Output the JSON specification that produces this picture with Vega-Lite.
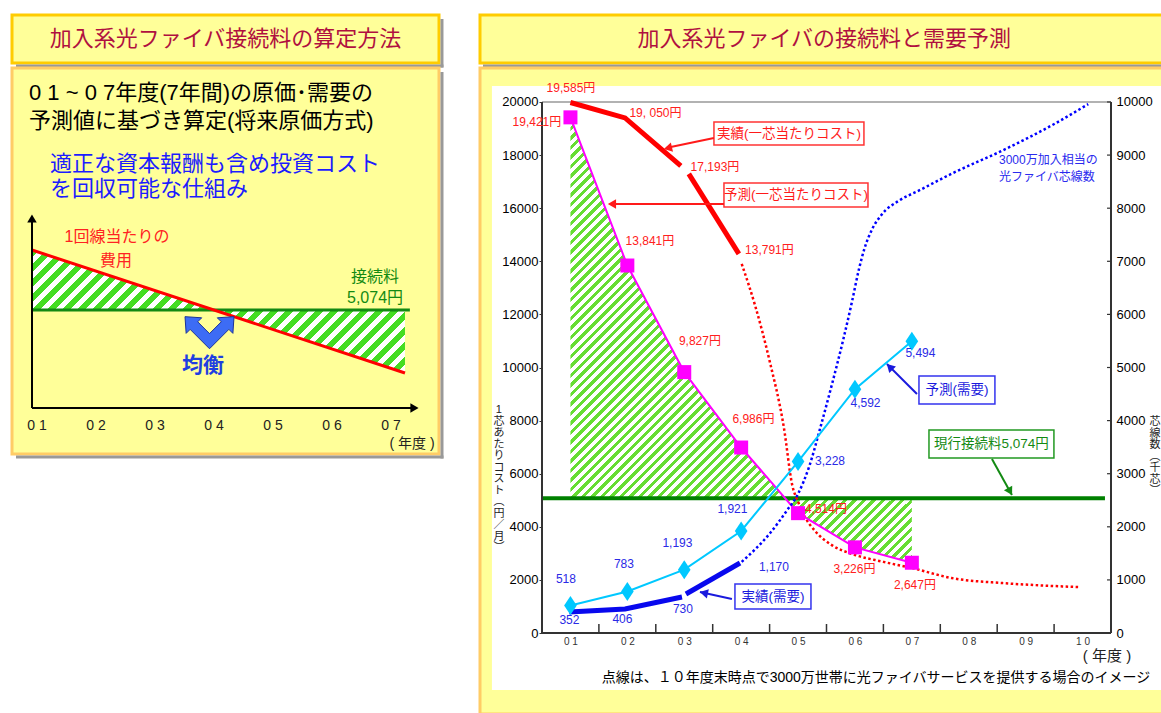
{
"$schema": "https://vega.github.io/schema/vega-lite/v6.json",
"background": "white",
"padding": {"left": 10, "top": 13, "right": 0, "bottom": 0},
"bounds": "flush",
"columns": 2,
"spacing": {"row": 5, "column": 41},
"config": {
  "view": {"stroke": null},
  "font": "Liberation Sans, Noto Sans CJK JP",
  "text": {"font": "Liberation Sans, Noto Sans CJK JP"},
  "axis": {"labelFont": "Liberation Sans", "zindex": 1}
},
"datasets": {
  "hdrL": [{"x": 0.5, "y": 0.5, "t": "加入系光ファイバ接続料の算定方法"}],
  "hdrR": [{"x": 0.504, "y": 0.5, "t": "加入系光ファイバの接続料と需要予測"}],
  "shL": [{"x": 1.0035, "x2": 1.0105, "y": 0.917, "y2": -0.094}, {"x": 0.0094, "x2": 1.0105, "y": -0.031, "y2": -0.094}],
  "shR": [{"x": 0.0044, "x2": 1.0, "y": -0.031, "y2": -0.094}],
  "shB": [{"x": 7.839, "x2": 7.89, "y": 336, "y2": -50.5}, {"x": 0.644, "x2": 7.89, "y": -47.5, "y2": -50.5}],
  "introBlack": [{"x": 0.8644, "y": 315, "t": "0 1 ~ 0 7年度(7年間)の原価･需要の"}, {"x": 0.8644, "y": 287, "t": "予測値に基づき算定(将来原価方式)"}],
  "introBlue": [{"x": 1.2203, "y": 244, "t": "適正な資本報酬も含め投資コスト"}, {"x": 1.2203, "y": 219, "t": "を回収可能な仕組み"}],
  "schHatch": [{"x": 0.915, "y": 158}, {"x": 4.0, "y": 98}, {"x": 7.237, "y": 35}],
  "schRed": [{"x": 0.915, "y": 158}, {"x": 7.237, "y": 35}],
  "schGreen": [{"x": 0.915, "x2": 7.32, "y": 98}],
  "schAxes": [{"x": 0.915, "y": 0, "x2": 0.915, "y2": 190}, {"x": 0.915, "y": 0, "x2": 7.41, "y2": 0}],
  "schHeads": [{"x": 0.915, "y": 189.5, "a": 0}, {"x": 7.398, "y": 0, "a": 90}],
  "schRedTxt": [{"x": 2.356, "y": 171, "t": "1回線当たりの"}, {"x": 2.339, "y": 147, "t": "費用"}],
  "schGreenTxt": [{"x": 6.729, "y": 131, "t": "接続料"}, {"x": 6.729, "y": 110, "t": "5,074円"}],
  "schBal": [{"x": 3.814, "y": 42, "t": "均衡"}],
  "schChev": [{"x": 3.924, "y": 81}],
  "schTicks": [{"x": 1, "y": -18, "t": "0 1"}, {"x": 2, "y": -18, "t": "0 2"}, {"x": 3, "y": -18, "t": "0 3"}, {"x": 4, "y": -18, "t": "0 4"}, {"x": 5, "y": -18, "t": "0 5"}, {"x": 6, "y": -18, "t": "0 6"}, {"x": 7, "y": -18, "t": "0 7"}, {"x": 7.356, "y": -36, "t": "( 年度 )"}],
  "white": [{"x": -0.38, "x2": 11.4139, "y": 20600, "y2": -2147}],
  "frameTop": [{"x": 0.5, "x2": 10.5, "y": 20000, "y2": 20000}],
  "frameAxes": [{"x": 0.5, "y": 0, "x2": 0.5, "y2": 20000}, {"x": 10.5, "y": 0, "x2": 10.5, "y2": 20000}, {"x": 0.5, "y": 0, "x2": 10.5, "y2": 0}],
  "xTicks": [{"x": 1.5, "y": 0, "y2": 340}, {"x": 2.5, "y": 0, "y2": 340}, {"x": 3.5, "y": 0, "y2": 340}, {"x": 4.5, "y": 0, "y2": 340}, {"x": 5.5, "y": 0, "y2": 340}, {"x": 6.5, "y": 0, "y2": 340}, {"x": 7.5, "y": 0, "y2": 340}, {"x": 8.5, "y": 0, "y2": 340}, {"x": 9.5, "y": 0, "y2": 340}],
  "rTicks": [{"x": 10.43, "x2": 10.5, "y": 2000}, {"x": 10.43, "x2": 10.5, "y": 4000}, {"x": 10.43, "x2": 10.5, "y": 6000}, {"x": 10.43, "x2": 10.5, "y": 8000}, {"x": 10.43, "x2": 10.5, "y": 10000}, {"x": 10.43, "x2": 10.5, "y": 12000}, {"x": 10.43, "x2": 10.5, "y": 14000}, {"x": 10.43, "x2": 10.5, "y": 16000}, {"x": 10.43, "x2": 10.5, "y": 18000}, {"x": 10.43, "x2": 10.5, "y": 20000}],
  "hatch": [{"x": 1, "y": 19421}, {"x": 2, "y": 13841}, {"x": 3, "y": 9827}, {"x": 4, "y": 6986}, {"x": 4.77, "y": 5074}, {"x": 5, "y": 4514}, {"x": 6, "y": 3226}, {"x": 7, "y": 2647}],
  "fee": [{"x": 0.5, "x2": 10.394, "y": 5074}],
  "costDot": [{"x": 4.01, "y": 13900}, {"x": 4.25, "y": 12300}, {"x": 4.5, "y": 10250}, {"x": 4.75, "y": 7750}, {"x": 4.9, "y": 5550}, {"x": 5.0, "y": 4950}, {"x": 5.1, "y": 4450}, {"x": 5.3, "y": 3840}, {"x": 5.6, "y": 3300}, {"x": 5.95, "y": 2975}, {"x": 6.5, "y": 2680}, {"x": 7.0, "y": 2450}, {"x": 7.7, "y": 2070}, {"x": 8.6, "y": 1880}, {"x": 9.3, "y": 1790}, {"x": 9.95, "y": 1730}],
  "costAct": [{"x": 1, "y": 19980, "s": 1}, {"x": 1.96, "y": 19400, "s": 1}, {"x": 2.94, "y": 17590, "s": 1}, {"x": 3.08, "y": 17290, "s": 2}, {"x": 3.96, "y": 14280, "s": 2}],
  "costFc": [{"x": 1, "y": 19421}, {"x": 2, "y": 13841}, {"x": 3, "y": 9827}, {"x": 4, "y": 6986}, {"x": 5, "y": 4514}, {"x": 6, "y": 3226}, {"x": 7, "y": 2647}],
  "redLbl": [{"x": 1.009, "y": 20525, "t": "19,585円"}, {"x": 0.411, "y": 19244, "t": "19,421円"}, {"x": 2.494, "y": 19583, "t": "19, 050円"}, {"x": 3.54, "y": 17550, "t": "17,193円"}, {"x": 4.497, "y": 14424, "t": "13,791円"}, {"x": 2.397, "y": 14763, "t": "13,841円"}, {"x": 3.276, "y": 10997, "t": "9,827円"}, {"x": 4.216, "y": 8059, "t": "6,986円"}, {"x": 5.49, "y": 4670, "t": "4,514円"}, {"x": 5.991, "y": 2410, "t": "3,226円"}, {"x": 7.054, "y": 1808, "t": "2,647円"}],
  "boxes": [{"x": 3.522, "x2": 6.158, "y": 19244, "y2": 18378, "kind": "cost"}, {"x": 3.698, "x2": 6.229, "y": 16947, "y2": 16043, "kind": "cost"}, {"x": 7.125, "x2": 8.46, "y": 9679, "y2": 8624, "kind": "demand"}, {"x": 7.301, "x2": 9.497, "y": 7645, "y2": 6591, "kind": "fee"}, {"x": 3.891, "x2": 5.227, "y": 1845, "y2": 904, "kind": "demand"}],
  "boxTxt": [{"x": 4.84, "y": 18811, "t": "実績(一芯当たりコスト)", "kind": "cost"}, {"x": 4.963, "y": 16495, "t": "予測(一芯当たりコスト)", "kind": "cost"}, {"x": 7.793, "y": 9151, "t": "予測(需要)", "kind": "demand"}, {"x": 8.399, "y": 7118, "t": "現行接続料5,074円", "kind": "fee"}, {"x": 4.559, "y": 1375, "t": "実績(需要)", "kind": "demand"}],
  "arrows": [{"x": 3.522, "y": 18642, "x2": 2.678, "y2": 18265, "kind": "cost"}, {"x": 3.698, "y": 16156, "x2": 1.71, "y2": 16156, "kind": "cost"}, {"x": 7.09, "y": 9001, "x2": 6.562, "y2": 10131, "kind": "demand"}, {"x": 8.408, "y": 6553, "x2": 8.759, "y2": 5197, "kind": "fee"}, {"x": 3.838, "y": 1280, "x2": 3.276, "y2": 1544, "kind": "demand"}],
  "heads": [{"x": 2.713, "y": 18262, "a": -103, "kind": "cost"}, {"x": 1.729, "y": 16156, "a": -90, "kind": "cost"}, {"x": 6.611, "y": 10025, "a": -45, "kind": "demand"}, {"x": 8.726, "y": 5329, "a": 151, "kind": "fee"}, {"x": 3.344, "y": 1510, "a": -78, "kind": "demand"}],
  "vTitles": [{"x": -0.257, "y": 8399, "t": "1\n芯\nあ\nた\nり\nコ\nス\nト\n︵\n円\n／\n月\n︶"}, {"x": 11.273, "y": 7947, "t": "芯\n線\n数\n︵\n千\n芯\n︶"}],
  "yearLbl": [{"x": 10.429, "y": -866, "t": "( 年度 )"}],
  "note": [{"x": 6.369, "y": -1695, "t": "点線は、１０年度末時点で3000万世帯に光ファイバサービスを提供する場合のイメージ"}],
  "blueNote": [{"x": 8.531, "y": 17815, "t": "3000万加入相当の"}, {"x": 8.531, "y": 17175, "t": "光ファイバ芯線数"}],
  "demDot": [{"x": 4.01, "y": 1340}, {"x": 4.5, "y": 1870}, {"x": 4.8, "y": 2300}, {"x": 5.0, "y": 2620}, {"x": 5.2, "y": 3150}, {"x": 5.4, "y": 3900}, {"x": 5.6, "y": 4700}, {"x": 5.8, "y": 5550}, {"x": 5.95, "y": 6250}, {"x": 6.07, "y": 6850}, {"x": 6.17, "y": 7250}, {"x": 6.3, "y": 7600}, {"x": 6.47, "y": 7880}, {"x": 6.77, "y": 8140}, {"x": 7.12, "y": 8330}, {"x": 7.7, "y": 8650}, {"x": 8.58, "y": 9080}, {"x": 9.51, "y": 9590}, {"x": 10.1, "y": 9960}],
  "demAct": [{"x": 0.98, "y": 395, "s": 1}, {"x": 1.96, "y": 452, "s": 1}, {"x": 2.96, "y": 678, "s": 1}, {"x": 3.03, "y": 734, "s": 2}, {"x": 3.98, "y": 1318, "s": 2}],
  "demFc": [{"x": 1, "y": 518}, {"x": 2, "y": 783}, {"x": 3, "y": 1193}, {"x": 4, "y": 1921}, {"x": 5, "y": 3228}, {"x": 6, "y": 4592}, {"x": 7, "y": 5494}],
  "blueLbl": [{"x": 0.921, "y": 1017, "t": "518"}, {"x": 1.94, "y": 1299, "t": "783"}, {"x": 2.88, "y": 1695, "t": "1,193"}, {"x": 3.847, "y": 2335, "t": "1,921"}, {"x": 5.561, "y": 3239, "t": "3,228"}, {"x": 6.185, "y": 4331, "t": "4,592"}, {"x": 7.151, "y": 5272, "t": "5,494"}, {"x": 0.982, "y": 245, "t": "352"}, {"x": 1.914, "y": 264, "t": "406"}, {"x": 2.977, "y": 452, "t": "730"}, {"x": 4.576, "y": 1243, "t": "1,170"}]
},
"concat": [
  {
    "width": 427, "height": 48,
    "view": {"fill": "#ffff99", "stroke": "#ffcc00", "strokeWidth": 3},
    "encoding": {
      "x": {"field": "x", "type": "quantitative", "scale": {"domain": [0, 1], "nice": false, "zero": false}, "axis": null},
      "y": {"field": "y", "type": "quantitative", "scale": {"domain": [0, 1], "nice": false, "zero": false}, "axis": null}
    },
    "layer": [
      {"data": {"name": "shL"}, "mark": {"type": "rect", "fill": "#999999"}, "encoding": {"x2": {"field": "x2"}, "y2": {"field": "y2"}}},
      {"data": {"name": "hdrL"}, "mark": {"type": "text", "fontSize": 22, "color": "#b01040"}, "encoding": {"text": {"field": "t"}}}
    ]
  },
  {
    "width": 683, "height": 48,
    "view": {"fill": "#ffff99", "stroke": "#ffcc00", "strokeWidth": 3},
    "encoding": {
      "x": {"field": "x", "type": "quantitative", "scale": {"domain": [0, 1], "nice": false, "zero": false}, "axis": null},
      "y": {"field": "y", "type": "quantitative", "scale": {"domain": [0, 1], "nice": false, "zero": false}, "axis": null}
    },
    "layer": [
      {"data": {"name": "shR"}, "mark": {"type": "rect", "fill": "#999999"}, "encoding": {"x2": {"field": "x2"}, "y2": {"field": "y2"}}},
      {"data": {"name": "hdrR"}, "mark": {"type": "text", "fontSize": 22, "color": "#b01040"}, "encoding": {"text": {"field": "t"}}}
    ]
  },
  {
    "width": 427, "height": 386,
    "view": {"fill": "#ffff99", "stroke": "#ffcc66", "strokeWidth": 3},
    "encoding": {
      "x": {"field": "x", "type": "quantitative", "scale": {"domain": [0.5763, 7.8136], "nice": false, "zero": false}, "axis": null},
      "y": {"field": "y", "type": "quantitative", "scale": {"domain": [-46, 340], "nice": false, "zero": false}, "axis": null}
    },
    "layer": [
      {"data": {"name": "shB"}, "mark": {"type": "rect", "fill": "#999999"}, "encoding": {"x2": {"field": "x2"}, "y2": {"field": "y2"}}},
      {"data": {"name": "schHatch"}, "mark": {"type": "area", "fillOpacity": 1, "fill": {"gradient": "linear", "x1": 0, "y1": 0, "x2": 1.233, "y2": 0.4067, "stops": [
        {"offset":0,"color":"#4d2"},{"offset":0.0147,"color":"#4d2"},{"offset":0.0147,"color":"#fff"},{"offset":0.0294,"color":"#fff"},
        {"offset":0.0294,"color":"#4d2"},{"offset":0.0441,"color":"#4d2"},{"offset":0.0441,"color":"#fff"},{"offset":0.0588,"color":"#fff"},
        {"offset":0.0588,"color":"#4d2"},{"offset":0.0735,"color":"#4d2"},{"offset":0.0735,"color":"#fff"},{"offset":0.0882,"color":"#fff"},
        {"offset":0.0882,"color":"#4d2"},{"offset":0.1029,"color":"#4d2"},{"offset":0.1029,"color":"#fff"},{"offset":0.1176,"color":"#fff"},
        {"offset":0.1176,"color":"#4d2"},{"offset":0.1324,"color":"#4d2"},{"offset":0.1324,"color":"#fff"},{"offset":0.1471,"color":"#fff"},
        {"offset":0.1471,"color":"#4d2"},{"offset":0.1618,"color":"#4d2"},{"offset":0.1618,"color":"#fff"},{"offset":0.1765,"color":"#fff"},
        {"offset":0.1765,"color":"#4d2"},{"offset":0.1912,"color":"#4d2"},{"offset":0.1912,"color":"#fff"},{"offset":0.2059,"color":"#fff"},
        {"offset":0.2059,"color":"#4d2"},{"offset":0.2206,"color":"#4d2"},{"offset":0.2206,"color":"#fff"},{"offset":0.2353,"color":"#fff"},
        {"offset":0.2353,"color":"#4d2"},{"offset":0.25,"color":"#4d2"},{"offset":0.25,"color":"#fff"},{"offset":0.2647,"color":"#fff"},
        {"offset":0.2647,"color":"#4d2"},{"offset":0.2794,"color":"#4d2"},{"offset":0.2794,"color":"#fff"},{"offset":0.2941,"color":"#fff"},
        {"offset":0.2941,"color":"#4d2"},{"offset":0.3088,"color":"#4d2"},{"offset":0.3088,"color":"#fff"},{"offset":0.3235,"color":"#fff"},
        {"offset":0.3235,"color":"#4d2"},{"offset":0.3382,"color":"#4d2"},{"offset":0.3382,"color":"#fff"},{"offset":0.3529,"color":"#fff"},
        {"offset":0.3529,"color":"#4d2"},{"offset":0.3676,"color":"#4d2"},{"offset":0.3676,"color":"#fff"},{"offset":0.3824,"color":"#fff"},
        {"offset":0.3824,"color":"#4d2"},{"offset":0.3971,"color":"#4d2"},{"offset":0.3971,"color":"#fff"},{"offset":0.4118,"color":"#fff"},
        {"offset":0.4118,"color":"#4d2"},{"offset":0.4265,"color":"#4d2"},{"offset":0.4265,"color":"#fff"},{"offset":0.4412,"color":"#fff"},
        {"offset":0.4412,"color":"#4d2"},{"offset":0.4559,"color":"#4d2"},{"offset":0.4559,"color":"#fff"},{"offset":0.4706,"color":"#fff"},
        {"offset":0.4706,"color":"#4d2"},{"offset":0.4853,"color":"#4d2"},{"offset":0.4853,"color":"#fff"},{"offset":0.5,"color":"#fff"},
        {"offset":0.5,"color":"#4d2"},{"offset":0.5147,"color":"#4d2"},{"offset":0.5147,"color":"#fff"},{"offset":0.5294,"color":"#fff"},
        {"offset":0.5294,"color":"#4d2"},{"offset":0.5441,"color":"#4d2"},{"offset":0.5441,"color":"#fff"},{"offset":0.5588,"color":"#fff"},
        {"offset":0.5588,"color":"#4d2"},{"offset":0.5735,"color":"#4d2"},{"offset":0.5735,"color":"#fff"},{"offset":0.5882,"color":"#fff"},
        {"offset":0.5882,"color":"#4d2"},{"offset":0.6029,"color":"#4d2"},{"offset":0.6029,"color":"#fff"},{"offset":0.6176,"color":"#fff"},
        {"offset":0.6176,"color":"#4d2"},{"offset":0.6324,"color":"#4d2"},{"offset":0.6324,"color":"#fff"},{"offset":0.6471,"color":"#fff"},
        {"offset":0.6471,"color":"#4d2"},{"offset":0.6618,"color":"#4d2"},{"offset":0.6618,"color":"#fff"},{"offset":0.6765,"color":"#fff"},
        {"offset":0.6765,"color":"#4d2"},{"offset":0.6912,"color":"#4d2"},{"offset":0.6912,"color":"#fff"},{"offset":0.7059,"color":"#fff"},
        {"offset":0.7059,"color":"#4d2"},{"offset":0.7206,"color":"#4d2"},{"offset":0.7206,"color":"#fff"},{"offset":0.7353,"color":"#fff"},
        {"offset":0.7353,"color":"#4d2"},{"offset":0.75,"color":"#4d2"},{"offset":0.75,"color":"#fff"},{"offset":0.7647,"color":"#fff"},
        {"offset":0.7647,"color":"#4d2"},{"offset":0.7794,"color":"#4d2"},{"offset":0.7794,"color":"#fff"},{"offset":0.7941,"color":"#fff"},
        {"offset":0.7941,"color":"#4d2"},{"offset":0.8088,"color":"#4d2"},{"offset":0.8088,"color":"#fff"},{"offset":0.8235,"color":"#fff"},
        {"offset":0.8235,"color":"#4d2"},{"offset":0.8382,"color":"#4d2"},{"offset":0.8382,"color":"#fff"},{"offset":0.8529,"color":"#fff"},
        {"offset":0.8529,"color":"#4d2"},{"offset":0.8676,"color":"#4d2"},{"offset":0.8676,"color":"#fff"},{"offset":0.8824,"color":"#fff"},
        {"offset":0.8824,"color":"#4d2"},{"offset":0.8971,"color":"#4d2"},{"offset":0.8971,"color":"#fff"},{"offset":0.9118,"color":"#fff"},
        {"offset":0.9118,"color":"#4d2"},{"offset":0.9265,"color":"#4d2"},{"offset":0.9265,"color":"#fff"},{"offset":0.9412,"color":"#fff"},
        {"offset":0.9412,"color":"#4d2"},{"offset":0.9559,"color":"#4d2"},{"offset":0.9559,"color":"#fff"},{"offset":0.9706,"color":"#fff"},
        {"offset":0.9706,"color":"#4d2"},{"offset":0.9853,"color":"#4d2"},{"offset":0.9853,"color":"#fff"},{"offset":1,"color":"#fff"}
      ]}}, "encoding": {"y2": {"datum": 98}}},
      {"data": {"name": "schGreen"}, "mark": {"type": "rule", "color": "#138a13", "strokeWidth": 3}, "encoding": {"x2": {"field": "x2"}}},
      {"data": {"name": "schRed"}, "mark": {"type": "line", "color": "#ff0000", "strokeWidth": 3}},
      {"data": {"name": "schAxes"}, "mark": {"type": "rule", "color": "#000000", "strokeWidth": 2}, "encoding": {"x2": {"field": "x2"}, "y2": {"field": "y2"}}},
      {"data": {"name": "schHeads"}, "mark": {"type": "point", "shape": "triangle-up", "size": 90, "filled": true, "color": "#000000", "opacity": 1}, "encoding": {"angle": {"field": "a", "type": "quantitative", "scale": null}}},
      {"data": {"name": "introBlack"}, "mark": {"type": "text", "align": "left", "fontSize": 22, "color": "#000000"}, "encoding": {"text": {"field": "t"}}},
      {"data": {"name": "introBlue"}, "mark": {"type": "text", "align": "left", "fontSize": 22, "color": "#1c1cff"}, "encoding": {"text": {"field": "t"}}},
      {"data": {"name": "schRedTxt"}, "mark": {"type": "text", "fontSize": 16, "color": "#ff2222"}, "encoding": {"text": {"field": "t"}}},
      {"data": {"name": "schGreenTxt"}, "mark": {"type": "text", "fontSize": 16, "color": "#138a13"}, "encoding": {"text": {"field": "t"}}},
      {"data": {"name": "schChev"}, "mark": {"type": "point", "shape": "M0,0.69L-0.615,0.075L-0.742,0.202L-0.778,-0.328L-0.248,-0.292L-0.375,-0.165L0,0.21L0.375,-0.165L0.248,-0.292L0.778,-0.328L0.742,0.202L0.615,0.075Z", "size": 3969, "filled": true, "fill": "#3d6cf5", "stroke": "#1a3399", "strokeWidth": 1, "opacity": 1}},
      {"data": {"name": "schBal"}, "mark": {"type": "text", "fontSize": 21, "fontWeight": "bold", "color": "#1f3fe0"}, "encoding": {"text": {"field": "t"}}},
      {"data": {"name": "schTicks"}, "mark": {"type": "text", "fontSize": 14, "color": "#222222"}, "encoding": {"text": {"field": "t"}}}
    ]
  },
  {
    "width": 683, "height": 646,
    "view": {"fill": "#ffff99", "stroke": "#ffcc66", "strokeWidth": 3},
    "resolve": {"scale": {"y": "independent"}, "axis": {"y": "independent"}},
    "layer": [
      {
        "encoding": {
          "x": {"field": "x", "type": "quantitative", "scale": {"domain": [-0.5896, 11.4139], "nice": false, "zero": false},
                "axis": {"orient": "bottom", "offset": -81, "zindex": 1, "domain": false, "ticks": false, "grid": false, "values": [1, 2, 3, 4, 5, 6, 7, 8, 9, 10], "labelExpr": "datum.value == 10 ? '1 0' : '0 ' + datum.value", "labelFont": "Liberation Sans", "labelFontSize": 10, "labelColor": "#333333", "labelPadding": 3, "title": null, "labelOverlap": false, "labelFlush": false}},
          "y": {"field": "y", "type": "quantitative", "scale": {"domain": [-3050, 21280], "nice": false, "zero": false},
                "axis": {"orient": "left", "offset": -62, "zindex": 1, "domain": false, "ticks": true, "tickSize": 3, "tickColor": "#333333", "grid": false, "values": [0, 2000, 4000, 6000, 8000, 10000, 12000, 14000, 16000, 18000, 20000], "labelFont": "Liberation Sans", "labelFontSize": 13, "labelColor": "#000000", "labelPadding": 1, "title": null, "labelOverlap": false, "format": "d"}}
        },
        "layer": [
          {"data": {"name": "white"}, "mark": {"type": "rect", "fill": "#ffffff"}, "encoding": {"x2": {"field": "x2"}, "y2": {"field": "y2"}}},
          {"data": {"name": "hatch"}, "mark": {"type": "area", "fillOpacity": 1, "fill": {"gradient": "linear", "x1": 0, "y1": 0, "x2": 0.865, "y2": 1.129, "stops": [
            {"offset":0,"color":"#6d3"},{"offset":0.0054,"color":"#6d3"},{"offset":0.0054,"color":"#fff"},{"offset":0.0119,"color":"#fff"},
            {"offset":0.0119,"color":"#6d3"},{"offset":0.0173,"color":"#6d3"},{"offset":0.0173,"color":"#fff"},{"offset":0.0238,"color":"#fff"},
            {"offset":0.0238,"color":"#6d3"},{"offset":0.0292,"color":"#6d3"},{"offset":0.0292,"color":"#fff"},{"offset":0.0357,"color":"#fff"},
            {"offset":0.0357,"color":"#6d3"},{"offset":0.0411,"color":"#6d3"},{"offset":0.0411,"color":"#fff"},{"offset":0.0476,"color":"#fff"},
            {"offset":0.0476,"color":"#6d3"},{"offset":0.053,"color":"#6d3"},{"offset":0.053,"color":"#fff"},{"offset":0.0595,"color":"#fff"},
            {"offset":0.0595,"color":"#6d3"},{"offset":0.0649,"color":"#6d3"},{"offset":0.0649,"color":"#fff"},{"offset":0.0714,"color":"#fff"},
            {"offset":0.0714,"color":"#6d3"},{"offset":0.0768,"color":"#6d3"},{"offset":0.0768,"color":"#fff"},{"offset":0.0833,"color":"#fff"},
            {"offset":0.0833,"color":"#6d3"},{"offset":0.0887,"color":"#6d3"},{"offset":0.0887,"color":"#fff"},{"offset":0.0952,"color":"#fff"},
            {"offset":0.0952,"color":"#6d3"},{"offset":0.1006,"color":"#6d3"},{"offset":0.1006,"color":"#fff"},{"offset":0.1071,"color":"#fff"},
            {"offset":0.1071,"color":"#6d3"},{"offset":0.1125,"color":"#6d3"},{"offset":0.1125,"color":"#fff"},{"offset":0.119,"color":"#fff"},
            {"offset":0.119,"color":"#6d3"},{"offset":0.1244,"color":"#6d3"},{"offset":0.1244,"color":"#fff"},{"offset":0.131,"color":"#fff"},
            {"offset":0.131,"color":"#6d3"},{"offset":0.1363,"color":"#6d3"},{"offset":0.1363,"color":"#fff"},{"offset":0.1429,"color":"#fff"},
            {"offset":0.1429,"color":"#6d3"},{"offset":0.1482,"color":"#6d3"},{"offset":0.1482,"color":"#fff"},{"offset":0.1548,"color":"#fff"},
            {"offset":0.1548,"color":"#6d3"},{"offset":0.1601,"color":"#6d3"},{"offset":0.1601,"color":"#fff"},{"offset":0.1667,"color":"#fff"},
            {"offset":0.1667,"color":"#6d3"},{"offset":0.172,"color":"#6d3"},{"offset":0.172,"color":"#fff"},{"offset":0.1786,"color":"#fff"},
            {"offset":0.1786,"color":"#6d3"},{"offset":0.1839,"color":"#6d3"},{"offset":0.1839,"color":"#fff"},{"offset":0.1905,"color":"#fff"},
            {"offset":0.1905,"color":"#6d3"},{"offset":0.1958,"color":"#6d3"},{"offset":0.1958,"color":"#fff"},{"offset":0.2024,"color":"#fff"},
            {"offset":0.2024,"color":"#6d3"},{"offset":0.2077,"color":"#6d3"},{"offset":0.2077,"color":"#fff"},{"offset":0.2143,"color":"#fff"},
            {"offset":0.2143,"color":"#6d3"},{"offset":0.2196,"color":"#6d3"},{"offset":0.2196,"color":"#fff"},{"offset":0.2262,"color":"#fff"},
            {"offset":0.2262,"color":"#6d3"},{"offset":0.2315,"color":"#6d3"},{"offset":0.2315,"color":"#fff"},{"offset":0.2381,"color":"#fff"},
            {"offset":0.2381,"color":"#6d3"},{"offset":0.2435,"color":"#6d3"},{"offset":0.2435,"color":"#fff"},{"offset":0.25,"color":"#fff"},
            {"offset":0.25,"color":"#6d3"},{"offset":0.2554,"color":"#6d3"},{"offset":0.2554,"color":"#fff"},{"offset":0.2619,"color":"#fff"},
            {"offset":0.2619,"color":"#6d3"},{"offset":0.2673,"color":"#6d3"},{"offset":0.2673,"color":"#fff"},{"offset":0.2738,"color":"#fff"},
            {"offset":0.2738,"color":"#6d3"},{"offset":0.2792,"color":"#6d3"},{"offset":0.2792,"color":"#fff"},{"offset":0.2857,"color":"#fff"},
            {"offset":0.2857,"color":"#6d3"},{"offset":0.2911,"color":"#6d3"},{"offset":0.2911,"color":"#fff"},{"offset":0.2976,"color":"#fff"},
            {"offset":0.2976,"color":"#6d3"},{"offset":0.303,"color":"#6d3"},{"offset":0.303,"color":"#fff"},{"offset":0.3095,"color":"#fff"},
            {"offset":0.3095,"color":"#6d3"},{"offset":0.3149,"color":"#6d3"},{"offset":0.3149,"color":"#fff"},{"offset":0.3214,"color":"#fff"},
            {"offset":0.3214,"color":"#6d3"},{"offset":0.3268,"color":"#6d3"},{"offset":0.3268,"color":"#fff"},{"offset":0.3333,"color":"#fff"},
            {"offset":0.3333,"color":"#6d3"},{"offset":0.3387,"color":"#6d3"},{"offset":0.3387,"color":"#fff"},{"offset":0.3452,"color":"#fff"},
            {"offset":0.3452,"color":"#6d3"},{"offset":0.3506,"color":"#6d3"},{"offset":0.3506,"color":"#fff"},{"offset":0.3571,"color":"#fff"},
            {"offset":0.3571,"color":"#6d3"},{"offset":0.3625,"color":"#6d3"},{"offset":0.3625,"color":"#fff"},{"offset":0.369,"color":"#fff"},
            {"offset":0.369,"color":"#6d3"},{"offset":0.3744,"color":"#6d3"},{"offset":0.3744,"color":"#fff"},{"offset":0.381,"color":"#fff"},
            {"offset":0.381,"color":"#6d3"},{"offset":0.3863,"color":"#6d3"},{"offset":0.3863,"color":"#fff"},{"offset":0.3929,"color":"#fff"},
            {"offset":0.3929,"color":"#6d3"},{"offset":0.3982,"color":"#6d3"},{"offset":0.3982,"color":"#fff"},{"offset":0.4048,"color":"#fff"},
            {"offset":0.4048,"color":"#6d3"},{"offset":0.4101,"color":"#6d3"},{"offset":0.4101,"color":"#fff"},{"offset":0.4167,"color":"#fff"},
            {"offset":0.4167,"color":"#6d3"},{"offset":0.422,"color":"#6d3"},{"offset":0.422,"color":"#fff"},{"offset":0.4286,"color":"#fff"},
            {"offset":0.4286,"color":"#6d3"},{"offset":0.4339,"color":"#6d3"},{"offset":0.4339,"color":"#fff"},{"offset":0.4405,"color":"#fff"},
            {"offset":0.4405,"color":"#6d3"},{"offset":0.4458,"color":"#6d3"},{"offset":0.4458,"color":"#fff"},{"offset":0.4524,"color":"#fff"},
            {"offset":0.4524,"color":"#6d3"},{"offset":0.4577,"color":"#6d3"},{"offset":0.4577,"color":"#fff"},{"offset":0.4643,"color":"#fff"},
            {"offset":0.4643,"color":"#6d3"},{"offset":0.4696,"color":"#6d3"},{"offset":0.4696,"color":"#fff"},{"offset":0.4762,"color":"#fff"},
            {"offset":0.4762,"color":"#6d3"},{"offset":0.4815,"color":"#6d3"},{"offset":0.4815,"color":"#fff"},{"offset":0.4881,"color":"#fff"},
            {"offset":0.4881,"color":"#6d3"},{"offset":0.4935,"color":"#6d3"},{"offset":0.4935,"color":"#fff"},{"offset":0.5,"color":"#fff"},
            {"offset":0.5,"color":"#6d3"},{"offset":0.5054,"color":"#6d3"},{"offset":0.5054,"color":"#fff"},{"offset":0.5119,"color":"#fff"},
            {"offset":0.5119,"color":"#6d3"},{"offset":0.5173,"color":"#6d3"},{"offset":0.5173,"color":"#fff"},{"offset":0.5238,"color":"#fff"},
            {"offset":0.5238,"color":"#6d3"},{"offset":0.5292,"color":"#6d3"},{"offset":0.5292,"color":"#fff"},{"offset":0.5357,"color":"#fff"},
            {"offset":0.5357,"color":"#6d3"},{"offset":0.5411,"color":"#6d3"},{"offset":0.5411,"color":"#fff"},{"offset":0.5476,"color":"#fff"},
            {"offset":0.5476,"color":"#6d3"},{"offset":0.553,"color":"#6d3"},{"offset":0.553,"color":"#fff"},{"offset":0.5595,"color":"#fff"},
            {"offset":0.5595,"color":"#6d3"},{"offset":0.5649,"color":"#6d3"},{"offset":0.5649,"color":"#fff"},{"offset":0.5714,"color":"#fff"},
            {"offset":0.5714,"color":"#6d3"},{"offset":0.5768,"color":"#6d3"},{"offset":0.5768,"color":"#fff"},{"offset":0.5833,"color":"#fff"},
            {"offset":0.5833,"color":"#6d3"},{"offset":0.5887,"color":"#6d3"},{"offset":0.5887,"color":"#fff"},{"offset":0.5952,"color":"#fff"},
            {"offset":0.5952,"color":"#6d3"},{"offset":0.6006,"color":"#6d3"},{"offset":0.6006,"color":"#fff"},{"offset":0.6071,"color":"#fff"},
            {"offset":0.6071,"color":"#6d3"},{"offset":0.6125,"color":"#6d3"},{"offset":0.6125,"color":"#fff"},{"offset":0.619,"color":"#fff"},
            {"offset":0.619,"color":"#6d3"},{"offset":0.6244,"color":"#6d3"},{"offset":0.6244,"color":"#fff"},{"offset":0.631,"color":"#fff"},
            {"offset":0.631,"color":"#6d3"},{"offset":0.6363,"color":"#6d3"},{"offset":0.6363,"color":"#fff"},{"offset":0.6429,"color":"#fff"},
            {"offset":0.6429,"color":"#6d3"},{"offset":0.6482,"color":"#6d3"},{"offset":0.6482,"color":"#fff"},{"offset":0.6548,"color":"#fff"},
            {"offset":0.6548,"color":"#6d3"},{"offset":0.6601,"color":"#6d3"},{"offset":0.6601,"color":"#fff"},{"offset":0.6667,"color":"#fff"},
            {"offset":0.6667,"color":"#6d3"},{"offset":0.672,"color":"#6d3"},{"offset":0.672,"color":"#fff"},{"offset":0.6786,"color":"#fff"},
            {"offset":0.6786,"color":"#6d3"},{"offset":0.6839,"color":"#6d3"},{"offset":0.6839,"color":"#fff"},{"offset":0.6905,"color":"#fff"},
            {"offset":0.6905,"color":"#6d3"},{"offset":0.6958,"color":"#6d3"},{"offset":0.6958,"color":"#fff"},{"offset":0.7024,"color":"#fff"},
            {"offset":0.7024,"color":"#6d3"},{"offset":0.7077,"color":"#6d3"},{"offset":0.7077,"color":"#fff"},{"offset":0.7143,"color":"#fff"},
            {"offset":0.7143,"color":"#6d3"},{"offset":0.7196,"color":"#6d3"},{"offset":0.7196,"color":"#fff"},{"offset":0.7262,"color":"#fff"},
            {"offset":0.7262,"color":"#6d3"},{"offset":0.7315,"color":"#6d3"},{"offset":0.7315,"color":"#fff"},{"offset":0.7381,"color":"#fff"},
            {"offset":0.7381,"color":"#6d3"},{"offset":0.7435,"color":"#6d3"},{"offset":0.7435,"color":"#fff"},{"offset":0.75,"color":"#fff"},
            {"offset":0.75,"color":"#6d3"},{"offset":0.7554,"color":"#6d3"},{"offset":0.7554,"color":"#fff"},{"offset":0.7619,"color":"#fff"},
            {"offset":0.7619,"color":"#6d3"},{"offset":0.7673,"color":"#6d3"},{"offset":0.7673,"color":"#fff"},{"offset":0.7738,"color":"#fff"},
            {"offset":0.7738,"color":"#6d3"},{"offset":0.7792,"color":"#6d3"},{"offset":0.7792,"color":"#fff"},{"offset":0.7857,"color":"#fff"},
            {"offset":0.7857,"color":"#6d3"},{"offset":0.7911,"color":"#6d3"},{"offset":0.7911,"color":"#fff"},{"offset":0.7976,"color":"#fff"},
            {"offset":0.7976,"color":"#6d3"},{"offset":0.803,"color":"#6d3"},{"offset":0.803,"color":"#fff"},{"offset":0.8095,"color":"#fff"},
            {"offset":0.8095,"color":"#6d3"},{"offset":0.8149,"color":"#6d3"},{"offset":0.8149,"color":"#fff"},{"offset":0.8214,"color":"#fff"},
            {"offset":0.8214,"color":"#6d3"},{"offset":0.8268,"color":"#6d3"},{"offset":0.8268,"color":"#fff"},{"offset":0.8333,"color":"#fff"},
            {"offset":0.8333,"color":"#6d3"},{"offset":0.8387,"color":"#6d3"},{"offset":0.8387,"color":"#fff"},{"offset":0.8452,"color":"#fff"},
            {"offset":0.8452,"color":"#6d3"},{"offset":0.8506,"color":"#6d3"},{"offset":0.8506,"color":"#fff"},{"offset":0.8571,"color":"#fff"},
            {"offset":0.8571,"color":"#6d3"},{"offset":0.8625,"color":"#6d3"},{"offset":0.8625,"color":"#fff"},{"offset":0.869,"color":"#fff"},
            {"offset":0.869,"color":"#6d3"},{"offset":0.8744,"color":"#6d3"},{"offset":0.8744,"color":"#fff"},{"offset":0.881,"color":"#fff"},
            {"offset":0.881,"color":"#6d3"},{"offset":0.8863,"color":"#6d3"},{"offset":0.8863,"color":"#fff"},{"offset":0.8929,"color":"#fff"},
            {"offset":0.8929,"color":"#6d3"},{"offset":0.8982,"color":"#6d3"},{"offset":0.8982,"color":"#fff"},{"offset":0.9048,"color":"#fff"},
            {"offset":0.9048,"color":"#6d3"},{"offset":0.9101,"color":"#6d3"},{"offset":0.9101,"color":"#fff"},{"offset":0.9167,"color":"#fff"},
            {"offset":0.9167,"color":"#6d3"},{"offset":0.922,"color":"#6d3"},{"offset":0.922,"color":"#fff"},{"offset":0.9286,"color":"#fff"},
            {"offset":0.9286,"color":"#6d3"},{"offset":0.9339,"color":"#6d3"},{"offset":0.9339,"color":"#fff"},{"offset":0.9405,"color":"#fff"},
            {"offset":0.9405,"color":"#6d3"},{"offset":0.9458,"color":"#6d3"},{"offset":0.9458,"color":"#fff"},{"offset":0.9524,"color":"#fff"},
            {"offset":0.9524,"color":"#6d3"},{"offset":0.9577,"color":"#6d3"},{"offset":0.9577,"color":"#fff"},{"offset":0.9643,"color":"#fff"},
            {"offset":0.9643,"color":"#6d3"},{"offset":0.9696,"color":"#6d3"},{"offset":0.9696,"color":"#fff"},{"offset":0.9762,"color":"#fff"},
            {"offset":0.9762,"color":"#6d3"},{"offset":0.9815,"color":"#6d3"},{"offset":0.9815,"color":"#fff"},{"offset":0.9881,"color":"#fff"},
            {"offset":0.9881,"color":"#6d3"},{"offset":0.9935,"color":"#6d3"},{"offset":0.9935,"color":"#fff"},{"offset":1,"color":"#fff"}
          ]}}, "encoding": {"y2": {"datum": 5074}}},
          {"data": {"name": "fee"}, "mark": {"type": "rule", "color": "#008000", "strokeWidth": 4}, "encoding": {"x2": {"field": "x2"}}},
          {"data": {"name": "frameTop"}, "mark": {"type": "rule", "color": "#999999", "strokeWidth": 1.5}, "encoding": {"x2": {"field": "x2"}, "y2": {"field": "y2"}}},
          {"data": {"name": "frameAxes"}, "mark": {"type": "rule", "color": "#333333", "strokeWidth": 2}, "encoding": {"x2": {"field": "x2"}, "y2": {"field": "y2"}}},
          {"data": {"name": "xTicks"}, "mark": {"type": "rule", "color": "#333333", "strokeWidth": 1.5}, "encoding": {"y2": {"field": "y2"}}},
          {"data": {"name": "rTicks"}, "mark": {"type": "rule", "color": "#333333", "strokeWidth": 1.2}, "encoding": {"x2": {"field": "x2"}}},
          {"data": {"name": "costDot"}, "mark": {"type": "line", "color": "#ff0000", "strokeWidth": 2.5, "strokeDash": [2.5, 2.5], "interpolate": "monotone"}},
          {"data": {"name": "costAct"}, "mark": {"type": "line", "color": "#ff0000", "strokeWidth": 5}, "encoding": {"detail": {"field": "s", "type": "nominal"}}},
          {"data": {"name": "costFc"}, "mark": {"type": "line", "color": "#ff00ff", "strokeWidth": 2}},
          {"data": {"name": "costFc"}, "mark": {"type": "point", "shape": "square", "size": 196, "filled": true, "color": "#ff00ff", "opacity": 1}},
          {"data": {"name": "redLbl"}, "mark": {"type": "text", "fontSize": 12, "color": "#ff2020"}, "encoding": {"text": {"field": "t"}}},
          {"data": {"name": "boxes"}, "mark": {"type": "rect", "fill": "#ffffff", "strokeWidth": 1.5}, "encoding": {"x2": {"field": "x2"}, "y2": {"field": "y2"}, "stroke": {"field": "kind", "type": "nominal", "scale": {"domain": ["cost", "demand", "fee"], "range": ["#ff3333", "#3333ee", "#229922"]}, "legend": null}}},
          {"data": {"name": "boxTxt"}, "mark": {"type": "text", "fontSize": 13.5}, "encoding": {"text": {"field": "t"}, "color": {"field": "kind", "type": "nominal", "scale": {"domain": ["cost", "demand", "fee"], "range": ["#ff1a1a", "#1a1add", "#138a13"]}, "legend": null}}},
          {"data": {"name": "arrows"}, "mark": {"type": "rule", "strokeWidth": 2}, "encoding": {"x2": {"field": "x2"}, "y2": {"field": "y2"}, "color": {"field": "kind", "type": "nominal", "legend": null}}},
          {"data": {"name": "heads"}, "mark": {"type": "point", "shape": "triangle-up", "size": 90, "filled": true, "opacity": 1}, "encoding": {"angle": {"field": "a", "type": "quantitative", "scale": null}, "color": {"field": "kind", "type": "nominal", "legend": null}}},
          {"data": {"name": "vTitles"}, "mark": {"type": "text", "fontSize": 11, "lineHeight": 11.5, "lineBreak": "\n", "color": "#222222"}, "encoding": {"text": {"field": "t"}}},
          {"data": {"name": "yearLbl"}, "mark": {"type": "text", "fontSize": 15, "color": "#222222"}, "encoding": {"text": {"field": "t"}}},
          {"data": {"name": "note"}, "mark": {"type": "text", "fontSize": 14, "color": "#000000"}, "encoding": {"text": {"field": "t"}}},
          {"data": {"name": "blueNote"}, "mark": {"type": "text", "fontSize": 12, "align": "left", "color": "#2a2aee"}, "encoding": {"text": {"field": "t"}}}
        ]
      },
      {
        "encoding": {
          "x": {"field": "x", "type": "quantitative", "scale": {"domain": [-0.5896, 11.4139], "nice": false, "zero": false}},
          "y": {"field": "y", "type": "quantitative", "scale": {"domain": [-1525, 10640], "nice": false, "zero": false},
                "axis": {"orient": "right", "offset": -52, "zindex": 1, "domain": false, "ticks": false, "grid": false, "values": [0, 1000, 2000, 3000, 4000, 5000, 6000, 7000, 8000, 9000, 10000], "labelFont": "Liberation Sans", "labelFontSize": 13, "labelColor": "#000000", "labelPadding": 5, "title": null, "labelOverlap": false, "format": "d"}}
        },
        "layer": [
          {"data": {"name": "demDot"}, "mark": {"type": "line", "color": "#0000ff", "strokeWidth": 2.5, "strokeDash": [2.5, 2.5], "interpolate": "monotone"}},
          {"data": {"name": "demAct"}, "mark": {"type": "line", "color": "#0808ee", "strokeWidth": 5}, "encoding": {"detail": {"field": "s", "type": "nominal"}}},
          {"data": {"name": "demFc"}, "mark": {"type": "line", "color": "#00c8ff", "strokeWidth": 2}},
          {"data": {"name": "demFc"}, "mark": {"type": "point", "shape": "M0,-1.2L0.8,0L0,1.2L-0.8,0Z", "size": 250, "filled": true, "color": "#00c8ff", "opacity": 1}},
          {"data": {"name": "blueLbl"}, "mark": {"type": "text", "fontSize": 12, "color": "#2a2ae6"}, "encoding": {"text": {"field": "t"}}}
        ]
      }
    ]
  }
]
}
